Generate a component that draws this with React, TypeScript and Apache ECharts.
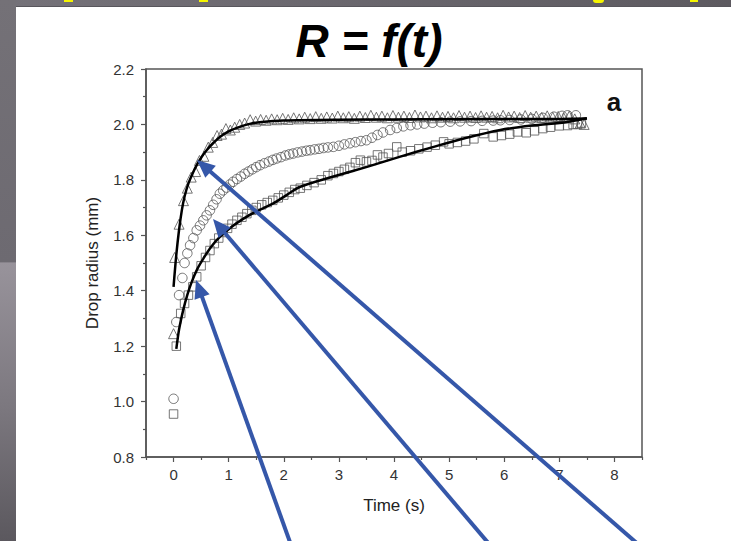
import React, { useEffect, useRef } from "react";
import * as echarts from "echarts";

// Measured data (t in s, R in mm)
const TRIANGLES: [number, number][] = [
  [0.0, 1.245], [0.02, 1.52], [0.1, 1.64], [0.18, 1.725], [0.25, 1.77], [0.32, 1.81],
  [0.4, 1.83], [0.47, 1.87], [0.55, 1.885], [0.63, 1.918], [0.71, 1.935], [0.79, 1.96],
  [0.87, 1.965], [0.95, 1.985], [1.03, 1.98], [1.11, 1.99], [1.2, 2.0], [1.29, 2.005],
  [1.39, 2.017], [1.49, 2.012], [1.58, 2.018], [1.68, 2.015], [1.78, 2.02], [1.88, 2.017],
  [1.98, 2.022], [2.08, 2.018], [2.18, 2.024], [2.28, 2.02], [2.38, 2.026], [2.48, 2.021],
  [2.58, 2.028], [2.68, 2.022], [2.78, 2.027], [2.88, 2.023], [2.98, 2.03], [3.08, 2.024],
  [3.18, 2.028], [3.28, 2.022], [3.38, 2.03], [3.48, 2.025], [3.58, 2.033], [3.68, 2.026],
  [3.78, 2.03], [3.88, 2.024], [3.98, 2.032], [4.08, 2.026], [4.18, 2.03], [4.28, 2.025],
  [4.38, 2.034], [4.48, 2.027], [4.58, 2.03], [4.68, 2.024], [4.78, 2.031], [4.88, 2.026],
  [4.98, 2.029], [5.08, 2.024], [5.18, 2.032], [5.28, 2.026], [5.38, 2.03], [5.48, 2.025],
  [5.58, 2.031], [5.68, 2.026], [5.78, 2.029], [5.88, 2.024], [5.98, 2.033], [6.08, 2.027],
  [6.18, 2.03], [6.28, 2.025], [6.38, 2.032], [6.48, 2.026], [6.58, 2.03], [6.68, 2.025],
  [6.78, 2.031], [6.88, 2.026], [6.98, 2.029], [7.08, 2.024], [7.18, 2.03], [7.28, 2.02],
  [7.38, 2.005], [7.45, 2.0],
];

const CIRCLES: [number, number][] = [
  [0.0, 1.01], [0.05, 1.287], [0.1, 1.384], [0.16, 1.446], [0.2, 1.5], [0.25, 1.535],
  [0.3, 1.564], [0.36, 1.59], [0.42, 1.618], [0.48, 1.635], [0.54, 1.654], [0.6, 1.672],
  [0.66, 1.69], [0.72, 1.71], [0.78, 1.73], [0.84, 1.75], [0.9, 1.762], [0.96, 1.772],
  [1.02, 1.783], [1.08, 1.793], [1.15, 1.803], [1.22, 1.812], [1.29, 1.822], [1.36, 1.83],
  [1.43, 1.838], [1.5, 1.846], [1.57, 1.853], [1.65, 1.86], [1.73, 1.866], [1.8, 1.872],
  [1.87, 1.877], [1.95, 1.882], [2.03, 1.888], [2.1, 1.892], [2.17, 1.895], [2.25, 1.899],
  [2.33, 1.902], [2.41, 1.905], [2.48, 1.907], [2.56, 1.91], [2.64, 1.912], [2.72, 1.915],
  [2.8, 1.917], [2.9, 1.919], [3.0, 1.923], [3.1, 1.928], [3.2, 1.932], [3.3, 1.936],
  [3.4, 1.94], [3.5, 1.943], [3.6, 1.952], [3.7, 1.962], [3.8, 1.971], [3.93, 1.98],
  [4.05, 1.987], [4.17, 1.993], [4.3, 1.997], [4.42, 2.0], [4.55, 2.003], [4.7, 2.006],
  [4.85, 2.008], [5.02, 2.01], [5.2, 2.011], [5.4, 2.012], [5.6, 2.013], [5.8, 2.014],
  [5.93, 2.015], [6.1, 2.016], [6.3, 2.018], [6.5, 2.02], [6.7, 2.024], [6.9, 2.028],
  [7.05, 2.031], [7.15, 2.033], [7.3, 2.033],
];

const SQUARES: [number, number][] = [
  [0.0, 0.955], [0.05, 1.2], [0.13, 1.318], [0.2, 1.354], [0.27, 1.384], [0.35, 1.414],
  [0.42, 1.45], [0.5, 1.49], [0.58, 1.52], [0.66, 1.545], [0.74, 1.57], [0.82, 1.59],
  [0.9, 1.61], [0.98, 1.625], [1.06, 1.64], [1.15, 1.654], [1.24, 1.665], [1.33, 1.678],
  [1.42, 1.69], [1.5, 1.7], [1.6, 1.71], [1.7, 1.718], [1.8, 1.726], [1.9, 1.735],
  [2.0, 1.745], [2.1, 1.755], [2.2, 1.765], [2.3, 1.77], [2.42, 1.78], [2.55, 1.79],
  [2.68, 1.8], [2.8, 1.815], [2.9, 1.823], [3.0, 1.83], [3.1, 1.838], [3.2, 1.845],
  [3.3, 1.862], [3.39, 1.871], [3.5, 1.865], [3.6, 1.87], [3.7, 1.89], [3.8, 1.882],
  [3.9, 1.895], [4.05, 1.919], [4.15, 1.9], [4.3, 1.905], [4.45, 1.912], [4.6, 1.918],
  [4.75, 1.925], [4.9, 1.937], [5.0, 1.93], [5.15, 1.935], [5.3, 1.94], [5.45, 1.948],
  [5.63, 1.967], [5.8, 1.955], [5.95, 1.96], [6.1, 1.965], [6.24, 1.973], [6.4, 1.97],
  [6.55, 1.977], [6.7, 1.985], [6.84, 1.99], [7.0, 1.995], [7.15, 1.996], [7.25, 2.0],
  [7.33, 2.0], [7.4, 2.005],
];

const TRIANGLE_FIT: [number, number][] = [
  [0.0, 1.414], [0.05, 1.53], [0.1, 1.62], [0.15, 1.69], [0.2, 1.74], [0.27, 1.787],
  [0.35, 1.825], [0.42, 1.853], [0.5, 1.88], [0.6, 1.907], [0.72, 1.933], [0.84, 1.955],
  [1.0, 1.975], [1.2, 1.991], [1.4, 2.003], [1.6, 2.009], [2.0, 2.014], [3.0, 2.017],
  [4.0, 2.018], [5.0, 2.019], [6.0, 2.02], [7.0, 2.02], [7.5, 2.021],
];

const SQUARE_FIT: [number, number][] = [
  [0.05, 1.19], [0.1, 1.26], [0.175, 1.33], [0.25, 1.385], [0.33, 1.432], [0.43, 1.478],
  [0.54, 1.516], [0.68, 1.558], [0.84, 1.594], [1.05, 1.63], [1.27, 1.66], [1.5, 1.686],
  [1.81, 1.715], [2.05, 1.745], [2.3, 1.775], [2.9, 1.812], [3.51, 1.847], [4.1, 1.883],
  [4.72, 1.919], [5.3, 1.951], [5.93, 1.98], [6.5, 1.996], [7.15, 2.009], [7.5, 2.022],
];

const X_MAJOR = [0, 1, 2, 3, 4, 5, 6, 7, 8];
const X_MINOR = [-0.5, 0.5, 1.5, 2.5, 3.5, 4.5, 5.5, 6.5, 7.5, 8.5];

const TITLE = "R = f(t)";
const PANEL_LABEL = "a";
const X_NAME = "Time (s)";
const Y_NAME = "Drop radius (mm)";

// Annotation arrows: [tailX, tailY, tipX, tipY] in page pixels
const ARROWS: [number, number, number, number][] = [
  [291, 545, 196, 280],
  [490, 545, 213, 219],
  [639, 545, 197, 160],
];

const FONT = "'Liberation Sans', Arial, sans-serif";
const ARROW_COLOR = "#3557a9";
const AXIS_COLOR = "#555";

function arrowGraphics() {
  const out: any[] = [];
  const headLen = 18;
  const halfW = 8;
  ARROWS.forEach(([tx, ty, px, py]) => {
    const dx = px - tx;
    const dy = py - ty;
    const len = Math.sqrt(dx * dx + dy * dy);
    const ux = dx / len;
    const uy = dy / len;
    const bx = px - ux * headLen;
    const by = py - uy * headLen;
    const nx = -uy;
    const ny = ux;
    out.push({
      type: "line",
      z: 100,
      shape: { x1: tx, y1: ty, x2: bx + ux * 2, y2: by + uy * 2 },
      style: { stroke: ARROW_COLOR, lineWidth: 4 },
      silent: true,
    });
    out.push({
      type: "polygon",
      z: 100,
      shape: {
        points: [
          [px, py],
          [bx + nx * halfW, by + ny * halfW],
          [bx - nx * halfW, by - ny * halfW],
        ],
      },
      style: { fill: ARROW_COLOR },
      silent: true,
    });
  });
  return out;
}

export default function App() {
  const ref = useRef<HTMLDivElement>(null);

  useEffect(() => {
    if (!ref.current) return;
    const chart = echarts.init(ref.current, undefined, { renderer: "svg" });
    const markerStyle = {
      color: "rgba(255,255,255,0)",
      borderColor: "#555",
      borderWidth: 1,
    };
    chart.setOption({
      animation: false,
      backgroundColor: "transparent",
      grid: {
        left: 146,
        right: 89,
        top: 69,
        bottom: 84,
        show: true,
        borderColor: AXIS_COLOR,
        borderWidth: 1.5,
        backgroundColor: "transparent",
      },
      xAxis: [
        {
          type: "value",
          min: -0.5,
          max: 8.5,
          position: "bottom",
          name: X_NAME,
          nameLocation: "middle",
          nameGap: 40,
          nameTextStyle: { fontFamily: FONT, fontSize: 17, color: "#222" },
          axisLine: { show: true, onZero: false, lineStyle: { color: AXIS_COLOR, width: 1.5 } },
          axisTick: {
            show: true,
            length: 5,
            customValues: X_MAJOR,
            lineStyle: { color: AXIS_COLOR, width: 1.2 },
          },
          axisLabel: {
            show: true,
            customValues: X_MAJOR,
            margin: 10,
            fontFamily: FONT,
            fontSize: 15,
            color: "#333",
          },
          splitLine: { show: false },
        },
        {
          type: "value",
          min: -0.5,
          max: 8.5,
          position: "bottom",
          axisLine: { show: false, onZero: false },
          axisTick: {
            show: true,
            length: 3,
            customValues: X_MINOR,
            lineStyle: { color: AXIS_COLOR, width: 1.2 },
          },
          axisLabel: { show: false },
          splitLine: { show: false },
        },
      ],
      yAxis: {
        type: "value",
        min: 0.8,
        max: 2.2,
        interval: 0.2,
        name: Y_NAME,
        nameLocation: "middle",
        nameRotate: 90,
        nameGap: 45,
        nameTextStyle: { fontFamily: FONT, fontSize: 17, color: "#222" },
        axisLine: { show: true, onZero: false, lineStyle: { color: AXIS_COLOR, width: 1.5 } },
        axisTick: { show: true, length: 5, lineStyle: { color: AXIS_COLOR, width: 1.2 } },
        minorTick: { show: true, splitNumber: 2, length: 3, lineStyle: { color: AXIS_COLOR, width: 1.2 } },
        axisLabel: {
          margin: 12,
          fontFamily: FONT,
          fontSize: 15,
          color: "#333",
          formatter: (v: number) => v.toFixed(1),
        },
        splitLine: { show: false },
        minorSplitLine: { show: false },
      },
      series: [
        {
          type: "scatter",
          data: SQUARES,
          symbol: "rect",
          symbolSize: 8.5,
          itemStyle: markerStyle,
          z: 2,
        },
        {
          type: "scatter",
          data: CIRCLES,
          symbol: "circle",
          symbolSize: 9.5,
          itemStyle: markerStyle,
          z: 2,
        },
        {
          type: "scatter",
          data: TRIANGLES,
          symbol: "triangle",
          symbolSize: 10,
          itemStyle: markerStyle,
          z: 2,
        },
        {
          type: "line",
          data: TRIANGLE_FIT,
          smooth: 0.3,
          showSymbol: false,
          lineStyle: { color: "#000", width: 2.5 },
          z: 5,
        },
        {
          type: "line",
          data: SQUARE_FIT,
          smooth: 0.3,
          showSymbol: false,
          lineStyle: { color: "#000", width: 2.5 },
          z: 5,
        },
      ],
      graphic: [
        {
          type: "text",
          x: 369,
          y: 41,
          z: 50,
          style: {
            text: TITLE,
            font: `italic bold 46px ${FONT}`,
            fill: "#000",
            align: "center",
            verticalAlign: "middle",
          },
        },
        {
          type: "text",
          x: 614,
          y: 102,
          z: 50,
          style: {
            text: PANEL_LABEL,
            font: `bold 26px ${FONT}`,
            fill: "#111",
            align: "center",
            verticalAlign: "middle",
          },
        },
        ...arrowGraphics(),
      ],
    });
    return () => chart.dispose();
  }, []);

  return (
    <div
      style={{
        position: "fixed",
        left: 0,
        top: 0,
        width: 731,
        height: 541,
        overflow: "hidden",
        background: "#6c6970",
      }}
    >
      <div
        style={{
          position: "absolute",
          left: 0,
          top: 0,
          width: 731,
          height: 7,
          background: "linear-gradient(to right, #757279, #5d5a60)",
          borderBottom: "1px solid #58565c",
          boxSizing: "border-box",
        }}
      />
      <div
        style={{
          position: "absolute",
          left: 0,
          top: 0,
          width: 16,
          height: 541,
          background:
            "linear-gradient(to bottom, #747177 0%, #6d6a71 48.4%, #98939b 48.6%, #7c787f 75%, #5b585e 100%)",
        }}
      />
      {[
        [64, 9, 2],
        [199, 9, 2],
        [593, 11, 3],
        [690, 8, 2],
      ].map(([x, w, h], i) => (
        <div
          key={i}
          style={{
            position: "absolute",
            left: x,
            top: 0,
            width: w,
            height: h,
            background: "#f5f500",
            borderRadius: i === 2 ? "0 0 6px 6px" : 0,
          }}
        />
      ))}
      <div
        style={{
          position: "absolute",
          left: 16,
          top: 7,
          width: 715,
          height: 534,
          background: "#fff",
        }}
      />
      <div
        ref={ref}
        style={{ position: "absolute", left: 0, top: 0, width: 731, height: 541 }}
      />
    </div>
  );
}
